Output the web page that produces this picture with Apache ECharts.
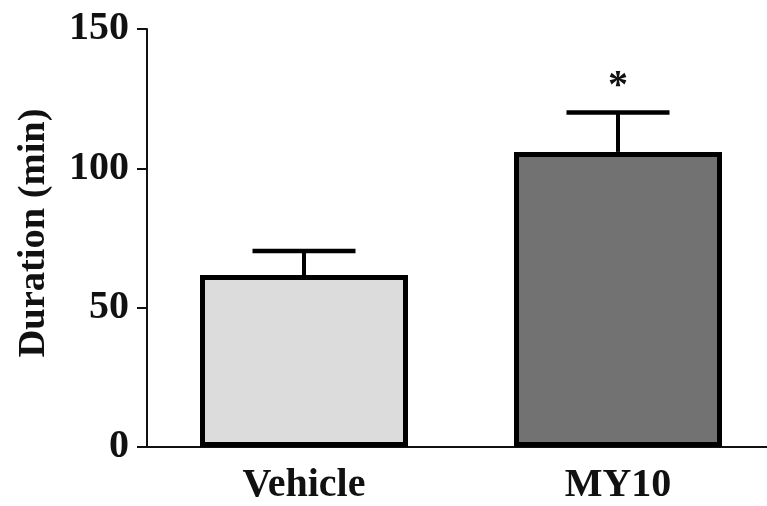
<!DOCTYPE html>
<html>
<head>
<meta charset="utf-8">
<script src="https://cdn.jsdelivr.net/npm/echarts@6/dist/echarts.min.js"></script>
<style>
html,body{margin:0;padding:0;background:#fff;overflow:hidden;}
#chart{width:775px;height:506px;}
</style>
</head>
<body>
<div id="chart"></div>
<script>
var categories = ['Vehicle', 'MY10'];
var means = [61.7, 105.9];
var sems = [8.6, 14.1];
var significance = ['', '*'];
var barColors = ['#dcdcdc', '#727272'];
var yTicks = [0, 50, 100, 150];

var font = '"Liberation Serif", "Times New Roman", serif';
var chart = echarts.init(document.getElementById('chart'), null, {renderer: 'canvas'});

var errData = means.map(function (m, i) { return [i, m, m + sems[i], significance[i]]; });

chart.setOption({
  animation: false,
  backgroundColor: '#ffffff',
  grid: {left: 147, right: 0, top: 29, height: 418, containLabel: false},
  xAxis: {
    type: 'category',
    data: categories,
    axisLine: {lineStyle: {color: '#111', width: 2}},
    axisTick: {alignWithLabel: true, length: 8, lineStyle: {color: '#111', width: 2}},
    axisLabel: {color: '#111', fontFamily: font, fontWeight: 'bold', fontSize: 40, margin: 19},
    splitLine: {show: false}
  },
  yAxis: {
    type: 'value',
    min: yTicks[0],
    max: yTicks[yTicks.length - 1],
    interval: yTicks[1] - yTicks[0],
    name: 'Duration (min)',
    nameLocation: 'middle',
    nameGap: 93,
    nameRotate: 90,
    nameTextStyle: {color: '#111', fontFamily: font, fontWeight: 'bold', fontSize: 38.5, padding: [0, 0, 0, 10]},
    axisLine: {show: true, lineStyle: {color: '#111', width: 2}},
    axisTick: {show: true, length: 10, lineStyle: {color: '#111', width: 2}},
    axisLabel: {color: '#111', fontFamily: font, fontWeight: 'bold', fontSize: 40, margin: 18},
    splitLine: {show: false}
  },
  series: [
    {
      type: 'bar',
      barWidth: 208,
      data: means.map(function (m, i) {
        return {value: m, itemStyle: {color: barColors[i], borderColor: '#000', borderWidth: 5}};
      }),
      z: 2
    },
    {
      type: 'custom',
      data: errData,
      z: 3,
      renderItem: function (params, api) {
        var idx = api.value(0);
        var base = api.coord([idx, api.value(1)]);
        var top = api.coord([idx, api.value(2)]);
        var half = 51.5;
        var label = significance[params.dataIndex];
        var children = [
          {type: 'line', shape: {x1: base[0], y1: base[1], x2: top[0], y2: top[1]}, style: {stroke: '#000', lineWidth: 4}},
          {type: 'line', shape: {x1: top[0] - half, y1: top[1], x2: top[0] + half, y2: top[1]}, style: {stroke: '#000', lineWidth: 4.5}}
        ];
        if (label) {
          children.push({type: 'text', style: {text: label, x: top[0], y: top[1] - 6, align: 'center', verticalAlign: 'bottom', fill: '#111', font: 'bold 40px ' + font}});
        }
        return {type: 'group', children: children};
      }
    }
  ]
});
</script>
</body>
</html>
